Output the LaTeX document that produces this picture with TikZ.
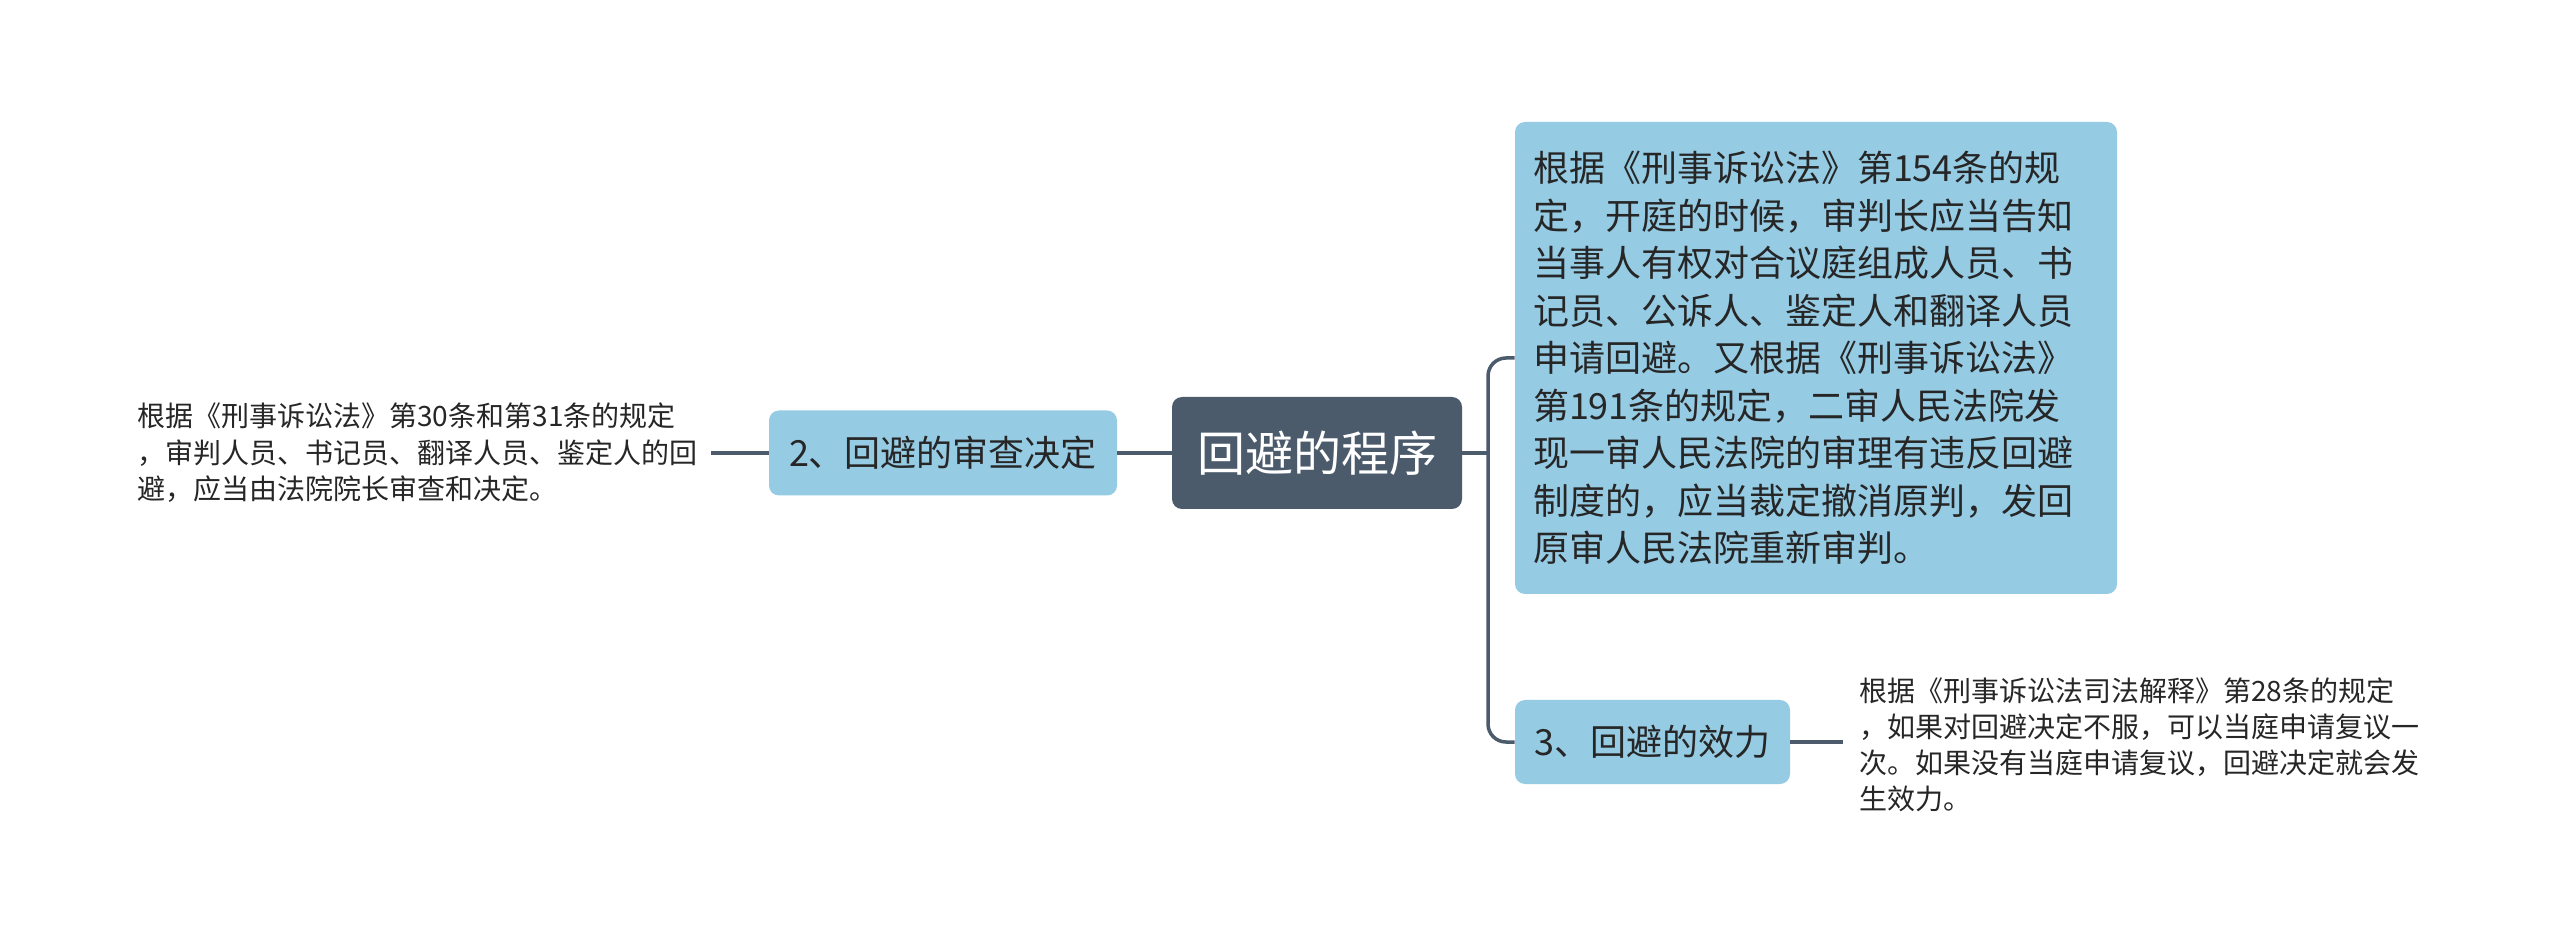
\documentclass[tikz,border=0pt]{standalone}
\usepackage{fontspec}
\setmainfont{Noto Sans CJK SC}
\definecolor{slate}{HTML}{4B5B6B}
\definecolor{lblue}{HTML}{96CBE4}
\definecolor{ink}{HTML}{262626}
\begin{document}
\begin{tikzpicture}[x=0.5pt,y=-0.5pt,
  conn/.style={draw=slate, line width=1.75pt},
  rootbox/.style={fill=slate, rounded corners=5pt, text=white, font=\fontsize{24pt}{28pt}\selectfont, minimum width=145pt, minimum height=56pt, inner sep=0pt},
  subbox/.style={fill=lblue, rounded corners=5pt, text=ink, font=\fontsize{18pt}{22pt}\selectfont, inner sep=0pt},
  sidetext/.style={text=ink, font=\fontsize{14pt}{18.25pt}\selectfont, align=left, inner sep=0pt, anchor=west}]
\useasboundingbox (0,0) rectangle (2560,951);
\fill[white] (0,0) rectangle (2560,951);

% nodes
\node[rootbox] (c) at (1317,453) {回避的程序};
\node[subbox, minimum width=174pt, minimum height=42.5pt] (n2) at (943,453) {2、回避的审查决定};
\node[subbox, minimum width=137.5pt, minimum height=42pt] (n3) at (1652.5,742) {3、回避的效力};
\node[subbox, minimum width=301pt, minimum height=236pt, text width=283pt, inner xsep=9pt, align=left,
      font=\fontsize{18pt}{23.75pt}\selectfont] (t1) at (1816,358)
 {根据《刑事诉讼法》第154条的规\\定，开庭的时候，审判长应当告知\\当事人有权对合议庭组成人员、书\\记员、公诉人、鉴定人和翻译人员\\申请回避。又根据《刑事诉讼法》\\第191条的规定，二审人民法院发\\现一审人民法院的审理有违反回避\\制度的，应当裁定撤消原判，发回\\原审人民法院重新审判。};
\node[sidetext] (lt) at (137,453)
 {根据《刑事诉讼法》第30条和第31条的规定\\，审判人员、书记员、翻译人员、鉴定人的回\\避，应当由法院院长审查和决定。};
\node[sidetext, font=\fontsize{14pt}{18pt}\selectfont] (bt) at (1859,745)
 {根据《刑事诉讼法司法解释》第28条的规定\\，如果对回避决定不服，可以当庭申请复议一\\次。如果没有当庭申请复议，回避决定就会发\\生效力。};

% connectors
\coordinate (j) at (1488,453);
\draw[conn] ([xshift=6.5pt]n2.west -| lt.east) -- (n2.west);
\draw[conn] (n2.east) -- (c.west);
\draw[conn] (c.east) -- (j);
\draw[conn, rounded corners=9pt] (t1.west) -| (j) |- (n3.west);
\draw[conn] (n3.east) -- ([xshift=-8pt]n3.east -| bt.west);
\end{tikzpicture}
\end{document}
